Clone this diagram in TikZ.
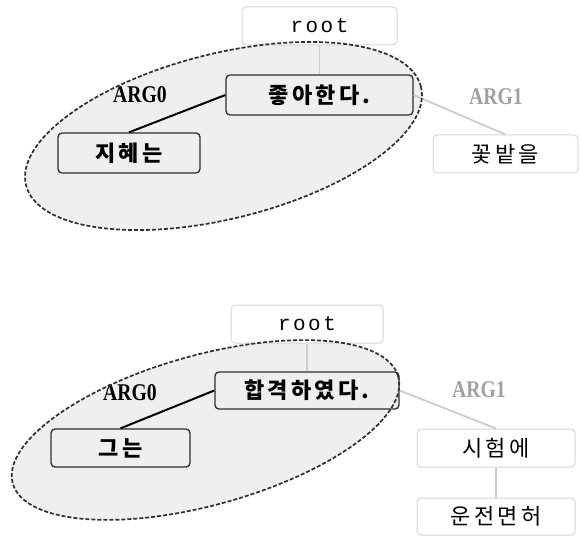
\documentclass[tikz,border=0pt]{standalone}
\usepackage{fontspec}
\usepackage{graphicx}
\newfontfamily\krfont[LetterSpace=15]{Noto Sans CJK KR}
\newfontfamily\rootfont[LetterSpace=12]{Liberation Mono}
\newfontfamily\argfont{Liberation Serif}
\definecolor{ellfill}{HTML}{EFEFEF}
\definecolor{ltline}{HTML}{CCCCCC}
\definecolor{ltborder}{HTML}{D6D6D6}
\definecolor{dkline}{HTML}{2E2E2E}
\definecolor{argone}{HTML}{A0A0A0}
\tikzset{
  dkbox/.style={draw=dkline, line width=1.3pt, fill=ellfill, rounded corners=4pt,
    inner sep=0pt, font=\krfont\bfseries\fontsize{22}{24}\selectfont},
  ltbox/.style={draw=ltborder, line width=1pt, fill=white, rounded corners=4pt,
    inner sep=0pt, font=\krfont\fontsize{22}{24}\selectfont},
  rootbox/.style={ltbox, font=\rootfont\fontsize{21}{23}\selectfont},
  graylink/.style={draw=ltline, line width=1.8pt},
  blacklink/.style={draw=black, line width=2pt},
  dashell/.style={draw=dkline, line width=1.7pt, dash pattern=on 4pt off 2pt},
  arglabel/.style={inner sep=0pt, font=\argfont\bfseries\fontsize{24}{26}\selectfont}
}
\begin{document}
\begin{tikzpicture}[x=1pt,y=-1pt]
\useasboundingbox (0,0) rectangle (580,537);
% ---------- top diagram ----------
\coordinate (e1) at (223.5,136);
\fill[ellfill, rotate around={14:(e1)}] (e1) ellipse [x radius=203.5pt, y radius=82.6pt];
\node[rootbox, minimum width=155pt, minimum height=38pt] (root1) at (319.5,26) {root};
\node[dkbox, minimum width=187pt, minimum height=40pt] (pred1) at (319.5,95) {좋아한다.};
\node[dkbox, minimum width=142pt, minimum height=40pt] (a01) at (129,153) {지혜는};
\node[ltbox, minimum width=145pt, minimum height=38pt] (a11) at (505.5,154) {꽃밭을};
\draw[graylink] (root1) -- (pred1);
\draw[blacklink] (pred1.west) -- (a01.north);
\draw[graylink] (pred1.east) -- (a11.north);
\node[arglabel, text=black] (l01) at (140,95) {\scalebox{0.82}[1]{ARG0}};
\node[arglabel, text=argone] (l11) at (496,97) {\scalebox{0.82}[1]{ARG1}};
\draw[dashell, rotate around={14:(e1)}] (e1) ellipse [x radius=203.5pt, y radius=82.6pt];
% ---------- bottom diagram ----------
\coordinate (e2) at (205.5,430);
\fill[ellfill, rotate around={15.5:(e2)}] (e2) ellipse [x radius=200pt, y radius=75pt];
\node[rootbox, minimum width=152pt, minimum height=38pt] (root2) at (307,324) {root};
\node[dkbox, minimum width=184pt, minimum height=37pt] (pred2) at (307,390.5) {합격하였다.};
\node[dkbox, minimum width=139pt, minimum height=38pt] (a02) at (120.5,448) {그는};
\node[ltbox, minimum width=158pt, minimum height=38pt] (a12) at (496,448) {시험에};
\node[ltbox, minimum width=158pt, minimum height=37pt] (mod) at (496,516.5) {운전면허};
\draw[graylink] (root2) -- (pred2);
\draw[blacklink] (pred2.west) -- (a02.north);
\draw[graylink] (pred2.east) -- (a12.north);
\draw[graylink] (a12) -- (mod);
\node[arglabel, text=black] (l02) at (130,393) {\scalebox{0.82}[1]{ARG0}};
\node[arglabel, text=argone] (l12) at (479,390) {\scalebox{0.82}[1]{ARG1}};
\draw[dashell, rotate around={15.5:(e2)}] (e2) ellipse [x radius=200pt, y radius=75pt];
\end{tikzpicture}
\end{document}
